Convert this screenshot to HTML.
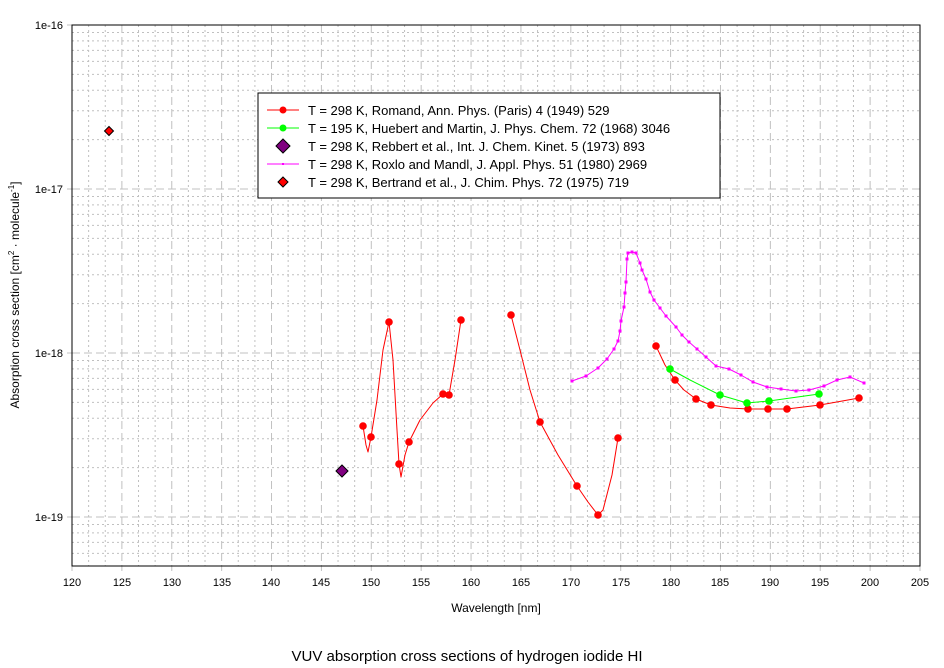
<!DOCTYPE html>
<html><head><meta charset="utf-8"><style>
body{margin:0;background:#fff;}
svg{display:block;font-family:"Liberation Sans",sans-serif;}
</style></head><body>
<svg id="s" width="944" height="668" xmlns="http://www.w3.org/2000/svg">
<g id="grid"></g>
<rect x="72" y="25" width="848" height="541" fill="none" stroke="#000" stroke-width="1"/>
<g font-size="11" text-anchor="middle" fill="#000">
<text x="72" y="586">120</text><text x="122" y="586">125</text><text x="172" y="586">130</text><text x="222" y="586">135</text><text x="271" y="586">140</text><text x="321" y="586">145</text><text x="371" y="586">150</text><text x="421" y="586">155</text><text x="471" y="586">160</text><text x="521" y="586">165</text><text x="571" y="586">170</text><text x="621" y="586">175</text><text x="671" y="586">180</text><text x="720" y="586">185</text><text x="770" y="586">190</text><text x="820" y="586">195</text><text x="870" y="586">200</text><text x="920" y="586">205</text>
</g>
<g font-size="11" text-anchor="end">
<text x="63" y="29">1e-16</text><text x="63" y="193">1e-17</text><text x="63" y="357">1e-18</text><text x="63" y="521">1e-19</text>
</g>
<text x="496" y="612" font-size="12" text-anchor="middle">Wavelength [nm]</text>
<text transform="translate(19,295) rotate(-90)" font-size="12" text-anchor="middle">Absorption cross section [cm<tspan font-size="8" dy="-5">2</tspan><tspan dy="5"> · molecule</tspan><tspan font-size="8" dy="-5">-1</tspan><tspan dy="5">]</tspan></text>
<text x="467" y="661" font-size="15" text-anchor="middle">VUV absorption cross sections of hydrogen iodide HI</text>

<g fill="none" stroke-linejoin="round" stroke-width="1">
<polyline stroke="#f00" points="363,426 366,445 368,452 371,437 377,400 383,350 389,322 393,360 397,430 399,464 401,477 405,455 409,442 420,420 433,403 443,394 449,395 455,360 461,320"/>
<polyline stroke="#f00" points="511,315 520,350 530,390 540,422 558,455 577,486 588,502 598,515 603,510 612,475 618,438"/>
<polyline stroke="#f00" points="656,346 665,365 675,380 684,390 696,399 711,405 730,408 748,409 768,409 787,409 820,405 859,398"/>
<polyline stroke="#0f0" points="670,369 690,380 720,395 747,403 769,401 819,394"/>
<polyline stroke="#f0f" points="572,381 586,376 598,368 607,359 614,349 618,341 620,331 621,321 624,307 625,293 626,282 627,259 628,253 632,252 636,253 640,263 642,270 646,279 650,292 654,300 660,308 666,316 676,327 682,335 689,342 697,349 706,357 716,366 729,369 741,375 753,382 767,387 781,389 796,391 809,390 824,386 837,380 850,377 864,383"/>
</g>
<g id="marks"></g>

<rect x="258" y="93" width="462" height="105" fill="#fff" stroke="#000"/>
<g font-size="13">
<line x1="267" y1="110" x2="299" y2="110" stroke="#f00"/><circle cx="283" cy="110" r="3.5" fill="#f00"/>
<text x="308" y="115">T = 298 K, Romand, Ann. Phys. (Paris) 4 (1949) 529</text>
<line x1="267" y1="128" x2="299" y2="128" stroke="#0f0"/><circle cx="283" cy="128" r="3.5" fill="#0f0"/>
<text x="308" y="133">T = 195 K, Huebert and Martin, J. Phys. Chem. 72 (1968) 3046</text>
<polygon points="283,139 290,146 283,153 276,146" fill="#800080" stroke="#000"/>
<text x="308" y="151">T = 298 K, Rebbert et al., Int. J. Chem. Kinet. 5 (1973) 893</text>
<line x1="267" y1="164" x2="299" y2="164" stroke="#f0f"/><rect x="282" y="163" width="2" height="2" fill="#f0f"/>
<text x="308" y="169">T = 298 K, Roxlo and Mandl, J. Appl. Phys. 51 (1980) 2969</text>
<polygon points="283,177 288,182 283,187 278,182" fill="#f00" stroke="#000"/>
<text x="308" y="187">T = 298 K, Bertrand et al., J. Chim. Phys. 72 (1975) 719</text>
</g>
</svg>
<script>
var NS="http://www.w3.org/2000/svg",g=document.getElementById("grid");
function ln(x1,y1,x2,y2,dash){var l=document.createElementNS(NS,"line");l.setAttribute("x1",x1);l.setAttribute("y1",y1);l.setAttribute("x2",x2);l.setAttribute("y2",y2);l.setAttribute("stroke","#c0c0c0");l.setAttribute("stroke-dasharray",dash);g.appendChild(l);}
for(var k=0;k<=51;k++){var x=72+k*848/51;if(k%3==0){ln(x,25,x,566,"8,4");ln(x,566,x,571,"");}else ln(x,25,x,566,"2,3");}
for(var d=-19.4;d<=-16;d+=1){}
for(var dec=-20;dec<=-16;dec++){for(var m=1;m<10;m++){var y=25+(-16-(dec+Math.log10(m)))*164;if(y<25||y>566)continue;if(m==1){ln(72,y,920,y,"8,4");ln(67,y,72,y,"");}else ln(72,y,920,y,"2,3");}}
var mk=document.getElementById("marks");
function c(x,y,col){var e=document.createElementNS(NS,"circle");e.setAttribute("cx",x);e.setAttribute("cy",y);e.setAttribute("r",3.8);e.setAttribute("fill",col);mk.appendChild(e);}
[[363,426],[371,437],[389,322],[399,464],[409,442],[443,394],[449,395],[461,320],[511,315],[540,422],[577,486],[598,515],[618,438],[656,346],[675,380],[696,399],[711,405],[748,409],[768,409],[787,409],[820,405],[859,398]].forEach(function(p){c(p[0],p[1],"#f00");});
[[670,369],[720,395],[747,403],[769,401],[819,394]].forEach(function(p){c(p[0],p[1],"#0f0");});
[[572,381],[586,376],[598,368],[607,359],[614,349],[618,341],[620,331],[621,321],[624,307],[625,293],[626,282],[627,259],[628,253],[632,252],[636,253],[640,263],[642,270],[646,279],[650,292],[654,300],[660,308],[666,316],[676,327],[682,335],[689,342],[697,349],[706,357],[716,366],[729,369],[741,375],[753,382],[767,387],[781,389],[796,391],[809,390],[824,386],[837,380],[850,377],[864,383]].forEach(function(p){var r=document.createElementNS(NS,"rect");r.setAttribute("x",p[0]-1.5);r.setAttribute("y",p[1]-1.5);r.setAttribute("width",3);r.setAttribute("height",3);r.setAttribute("fill","#f0f");mk.appendChild(r);});
function dm(x,y,s,col){var e=document.createElementNS(NS,"polygon");e.setAttribute("points",x+","+(y-s)+" "+(x+s)+","+y+" "+x+","+(y+s)+" "+(x-s)+","+y);e.setAttribute("fill",col);e.setAttribute("stroke","#000");mk.appendChild(e);}
dm(342,471,6,"#800080");
var eb=document.createElementNS(NS,"line");eb.setAttribute("x1",105);eb.setAttribute("y1",131);eb.setAttribute("x2",113);eb.setAttribute("y2",131);eb.setAttribute("stroke","#000");mk.appendChild(eb);
dm(109,131,4.5,"#f00");
</script>
</body></html>
